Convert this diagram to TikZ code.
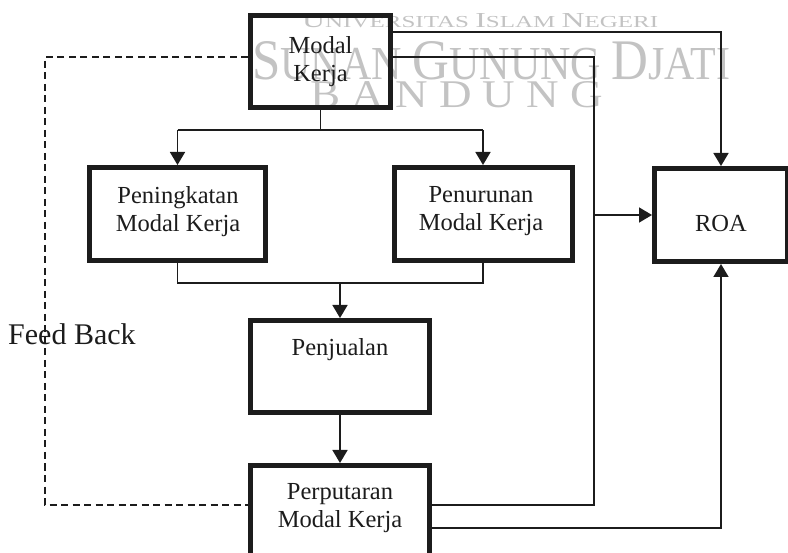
\documentclass[tikz,border=0pt]{standalone}
\usepackage{fontspec}
\setmainfont{Liberation Serif}
\usepackage{graphicx}
\usetikzlibrary{arrows.meta}
\definecolor{ink}{RGB}{28,28,28}
\definecolor{wmgray}{RGB}{195,195,195}
\newcommand{\WMbig}[2]{{\fontsize{#2}{#2}\selectfont #1}}
\begin{document}
\begin{tikzpicture}[x=1pt,y=-1pt,
  box/.style={draw=ink, line width=5pt, inner sep=0pt, outer sep=2.5pt, minimum height=93pt},
  lbl/.style={text=ink, align=center, inner sep=0pt, font=\fontsize{24.5}{28}\selectfont},
  conn/.style={draw=ink, line width=1.6pt},
  arr/.style={conn, -{Triangle[length=13pt,width=15pt]}},
  fb/.style={conn, dash pattern=on 7pt off 4.5pt},
  wm/.style={text=wmgray, inner sep=0pt, anchor=base west}]
\path[use as bounding box] (0,0) rectangle (788,553);
\clip (0,0) rectangle (788,553);
% watermark
\node[wm] (wm1) at (302,28) {\resizebox{356pt}{14pt}{\WMbig{U}{14}\WMbig{NIVERSITAS }{11}\WMbig{I}{14}\WMbig{SLAM }{11}\WMbig{N}{14}\WMbig{EGERI}{11}}};
\node[wm] (wm2) at (252,80) {\resizebox{478pt}{38pt}{\WMbig{S}{57}\WMbig{UNAN }{47}\WMbig{G}{57}\WMbig{UNUNG }{47}\WMbig{D}{57}\WMbig{JATI}{47}}};
\node[wm] (wm3) at (310,108) {\resizebox{293pt}{26pt}{\fontsize{39}{39}\selectfont B A N D U N G}};
% boxes
\node[box, minimum width=140pt, minimum height=92pt] (mk) at (320.5,61.5) {};
\node[box, minimum width=176pt] (pk) at (177.5,214) {};
\node[box, minimum width=178pt] (pn) at (483,214) {};
\node[box, minimum width=133pt] (roa) at (721,215) {};
\node[box, minimum width=179pt, minimum height=92pt] (pj) at (340,366.5) {};
\node[box, minimum width=179pt] (pp) at (340,512) {};
% labels
\node[lbl] (mkT) at (320.5,61.5) {Modal\\Kerja};
\node[lbl] (pkT) at (178,211.5) {Peningkatan\\Modal Kerja};
\node[lbl] (pnT) at (481,211.5) {Penurunan\\Modal Kerja};
\node[lbl] (roaT) at (721,224) {ROA};
\node[lbl] (pjT) at (340,349.5) {Penjualan};
\node[lbl] (ppT) at (340,508.5) {Perputaran\\Modal Kerja};
\node[text=ink, inner sep=0pt, anchor=base west, font=\fontsize{30}{36}\selectfont] (fbT) at (8,345) {Feed Back};
% junction coordinates
\coordinate (j1) at (320,130);
\coordinate (j2) at (340,283);
\coordinate (r1) at (721,32);
\coordinate (c1) at (594,57);
\coordinate (c2) at (594,505);
\coordinate (c3) at (721,528);
\coordinate (d1) at (45,57);
\coordinate (d2) at (45,505);
% connectors
\draw[conn] (mk.south) -- (mk.south |- j1);
\draw[arr] (pk.north |- j1) -- (pk.north);
\draw[arr] (pn.north |- j1) -- (pn.north);
\draw[conn] (pk.north |- j1) -- (pn.north |- j1);
\draw[conn] (pk.south) -- (pk.south |- j2) -- (pn.south |- j2) -- (pn.south);
\draw[arr] (j2) -- (pj.north);
\draw[arr] (pj.south) -- (pp.north);
\draw[arr] (mk.east |- r1) -| (roa.north);
\draw[conn] (mk.east |- c1) -- (c1) -- (c2) -- (pp.east |- c2);
\draw[arr] (c1 |- roa.west) -- (roa.west);
\draw[arr] (pp.east |- c3) -| (roa.south);
\draw[fb] (mk.west |- d1) -- (d1) -- (d2) -- (pp.west |- d2);
\end{tikzpicture}
\end{document}
